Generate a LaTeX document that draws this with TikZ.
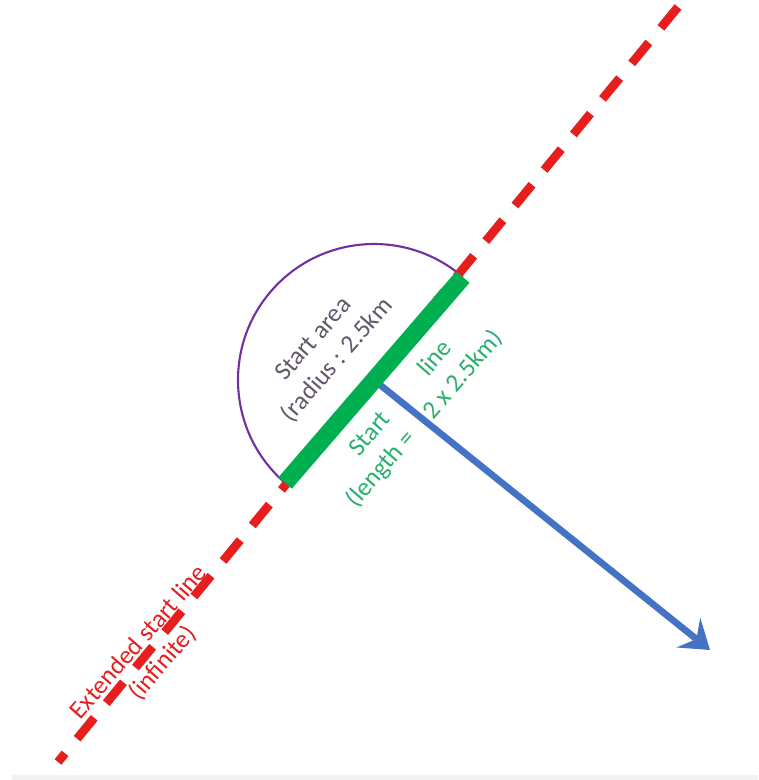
\documentclass[tikz,border=0pt]{standalone}
\usepackage{fontspec}
\setmainfont{Carlito}
\usetikzlibrary{arrows.meta,positioning,calc}
\definecolor{extred}{RGB}{230,30,30}
\definecolor{linegreen}{RGB}{0,176,80}
\definecolor{textgreen}{RGB}{40,176,110}
\definecolor{areapurple}{RGB}{112,48,160}
\definecolor{areagray}{RGB}{98,88,108}
\definecolor{headblue}{RGB}{68,114,196}

\begin{document}
\begin{tikzpicture}[
  x=0.02cm, y=-0.02cm,
  >={Stealth[length=5.5mm,width=7.5mm,inset=2mm]},
  extline/.style={draw=extred, line width=5pt,
                  dash pattern=on 0.54cm off 0.38cm},
  startline/.style={draw=linegreen, line width=10pt},
  area/.style={draw=areapurple, line width=1.2pt},
  heading/.style={draw=headblue, line width=3.8pt},
  note/.style={font=\fontsize{14.5}{18}\selectfont, align=center,
               rotate=49, inner sep=0pt},
]
\useasboundingbox (0,0) rectangle (758,780);
\fill[gray!10] (12,775) rectangle (758,780);

% --- Geometry of the start ---
\coordinate (extTop) at (678,7);
\coordinate (extBot) at (58,762);
\coordinate (mid)    at (374,380);
\coordinate (lineA)  at ($(mid)+(130.8:136)$);
\coordinate (lineB)  at ($(mid)+(310.8:136)$);
\coordinate (tip)    at (710,650);

% --- Start area (half disc) ---
\draw[area] (lineA) arc[start angle=130.8, end angle=310.8, radius=136];

% --- Extended line, heading, start line ---
\draw[extline] (extTop) -- (extBot);
\draw[heading, ->] (mid) -- (tip);
\draw[startline] (lineA) -- (lineB);

% --- Labels ---
\node[note, text=areagray] (areaText) at (326,350)
  {Start area\\(radius : 2.5km};
\node[note, text=textgreen] (lineText) at (413,409)
  {Start\hspace{2.2em}line\\(length =\hspace{1em}2 x 2.5km)};
\node[note, text=extred] (extText) at (151,653)
  {Extended start line\\(infinite)};
\end{tikzpicture}
\end{document}
